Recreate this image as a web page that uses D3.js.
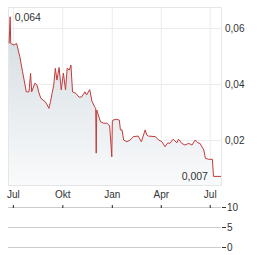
<!DOCTYPE html>
<html>
<head>
<meta charset="utf-8">
<script src="https://cdn.jsdelivr.net/npm/d3@7"></script>
<style>
body { margin: 0; background: #fff; }
svg text { font-family: "Liberation Sans", Arial, sans-serif; fill: #333; }
</style>
</head>
<body>
<div id="chart"></div>
<script>
// Price series
const dates = ["2023-06-24","2023-06-26","2023-06-27","2023-07-03","2023-07-08","2023-07-11","2023-07-14",
  "2023-07-19","2023-07-22","2023-07-26","2023-07-31","2023-08-03","2023-08-05","2023-08-11","2023-08-15",
  "2023-08-18","2023-08-22","2023-08-30","2023-09-03","2023-09-06","2023-09-09","2023-09-12","2023-09-15",
  "2023-09-18","2023-09-21","2023-09-25","2023-09-29","2023-10-03","2023-10-07","2023-10-10","2023-10-14",
  "2023-10-17","2023-10-20","2023-10-26","2023-11-01","2023-11-06","2023-11-12","2023-11-15","2023-11-21",
  "2023-11-25","2023-11-30","2023-12-02","2023-12-03","2023-12-04","2023-12-06","2023-12-11","2023-12-17",
  "2023-12-23","2023-12-28","2024-01-01","2024-01-02","2024-01-03","2024-01-10","2024-01-15","2024-01-17",
  "2024-01-20","2024-01-23","2024-01-29","2024-02-04","2024-02-10","2024-02-19","2024-02-25","2024-03-03",
  "2024-03-06","2024-03-09","2024-03-22","2024-03-28","2024-04-03","2024-04-09","2024-04-14","2024-04-18",
  "2024-04-24","2024-05-01","2024-05-04","2024-05-10","2024-05-16","2024-05-23","2024-05-29","2024-06-04",
  "2024-06-09","2024-06-13","2024-06-20","2024-06-23","2024-06-29","2024-07-06","2024-07-08","2024-07-22"];
const prices = [0.0545,0.064,0.0545,0.0539,0.0545,0.0521,0.0497,
  0.0444,0.0414,0.0372,0.0372,0.0438,0.0372,0.0403,0.0396,
  0.0372,0.0349,0.0337,0.0325,0.0313,0.0337,0.0367,0.0396,
  0.0456,0.0414,0.0459,0.0379,0.0439,0.0379,0.0456,0.045,
  0.0468,0.0372,0.0367,0.0353,0.0354,0.0372,0.0361,0.038,
  0.0339,0.0319,0.0313,0.0153,0.0307,0.0295,0.0265,0.026,
  0.026,0.025,0.014,0.0268,0.0271,0.0274,0.0271,0.0236,
  0.0236,0.02,0.0194,0.02,0.0212,0.0214,0.0194,0.0236,
  0.0218,0.0214,0.0212,0.02,0.0194,0.0176,0.019,0.0188,
  0.0203,0.019,0.0203,0.0188,0.0182,0.0188,0.0182,0.02,
  0.019,0.0188,0.0164,0.0135,0.0131,0.0131,0.007,0.007];

const priceTicks = [0.02, 0.04, 0.06];
const monthTicks = ["2023-07-01", "2023-10-01", "2024-01-01", "2024-04-01", "2024-07-01"];
const monthLabels = ["Jul", "Okt", "Jan", "Apr", "Jul"];
const volumeTicks = [0, 5, 10];

const W = 264, H = 255;
const plot = {left: 8, right: 221, top: 7, bottom: 185};

const parse = d3.utcParse("%Y-%m-%d");
const data = dates.map((d, i) => ({date: parse(d), value: prices[i]}));

const de = d3.formatLocale({decimal: ",", thousands: ".", grouping: [3], currency: ["", " €"]});
const fmt2 = de.format(".2f"), fmt3 = de.format(".3f");

const svg = d3.select("#chart").append("svg")
  .attr("width", W).attr("height", H);

const x = d3.scaleUtc()
  .domain([parse("2023-06-22"), parse("2024-07-22")])
  .range([plot.left, plot.right]);

const y = d3.scaleLinear()
  .domain([0, 0.06])
  .range([196, 28]);

// gradient for the area
const grad = svg.append("defs").append("linearGradient")
  .attr("id", "fill").attr("gradientUnits", "userSpaceOnUse")
  .attr("x1", 0).attr("x2", 0).attr("y1", plot.top).attr("y2", plot.bottom);
grad.append("stop").attr("offset", "0%").attr("stop-color", "#d0d9df");
grad.append("stop").attr("offset", "100%").attr("stop-color", "#f9fafb");

svg.select("defs").append("clipPath").attr("id", "clip")
  .append("rect")
  .attr("x", plot.left).attr("y", plot.top)
  .attr("width", plot.right - plot.left).attr("height", plot.bottom - plot.top);

// gridlines
svg.append("g")
  .attr("transform", `translate(0,${plot.bottom})`)
  .call(d3.axisBottom(x).tickValues(monthTicks.map(parse)).tickSize(-(plot.bottom - plot.top)).tickFormat(""))
  .call(g => g.select(".domain").remove())
  .call(g => g.selectAll("line").attr("stroke", "#ebebeb"));

svg.append("g")
  .attr("transform", `translate(${plot.left},0)`)
  .call(d3.axisRight(y).tickValues(priceTicks).tickSize(plot.right - plot.left).tickFormat(""))
  .call(g => g.select(".domain").remove())
  .call(g => g.selectAll("line").attr("stroke", "#ebebeb"));

// frame
svg.append("rect")
  .attr("x", plot.left + 0.5).attr("y", plot.top + 0.5)
  .attr("width", plot.right - plot.left).attr("height", plot.bottom - plot.top)
  .attr("fill", "none").attr("stroke", "#e6e6e6");

// area and line
const area = d3.area()
  .x(d => x(d.date)).y0(plot.bottom).y1(d => y(d.value));
const line = d3.line()
  .x(d => x(d.date)).y(d => y(d.value));

svg.append("path")
  .datum(data)
  .attr("clip-path", "url(#clip)")
  .attr("d", area)
  .attr("fill", "url(#fill)");

svg.append("path")
  .datum(data)
  .attr("clip-path", "url(#clip)")
  .attr("d", line)
  .attr("fill", "none")
  .attr("stroke", "#c23b3b")
  .attr("stroke-width", 1);

// price axis on the right
svg.append("g")
  .attr("transform", `translate(${plot.right},0)`)
  .call(d3.axisRight(y).tickValues(priceTicks).tickSize(0).tickPadding(4).tickFormat(fmt2))
  .call(g => g.select(".domain").remove())
  .call(g => g.selectAll("text").style("font-size", "10px").attr("fill", "#333"));

// month labels
svg.append("g")
  .attr("transform", `translate(0,${plot.bottom})`)
  .call(d3.axisBottom(x).tickValues(monthTicks.map(parse)).tickSize(0).tickPadding(6)
    .tickFormat((d, i) => monthLabels[i]))
  .call(g => g.select(".domain").remove())
  .call(g => g.selectAll("text").style("font-size", "10px").attr("fill", "#333"));

// max / last annotations
const maxPt = data.reduce((a, b) => b.value > a.value ? b : a);
const lastPt = data[data.length - 1];
const dropPt = data[data.length - 2];

svg.append("text")
  .attr("x", x(maxPt.date) + 4.5).attr("y", y(maxPt.value)).attr("dy", "0.37em")
  .style("font-size", "10.5px").attr("fill", "#222")
  .text(fmt3(maxPt.value));

svg.append("text")
  .attr("x", x(dropPt.date) - 5.5).attr("y", y(lastPt.value)).attr("dy", "0.37em")
  .attr("text-anchor", "end")
  .style("font-size", "10.5px").attr("fill", "#222")
  .text(fmt3(lastPt.value));

// volume panel (empty)
const yv = d3.scaleLinear().domain([0, 10]).range([247, 207]);

svg.append("g")
  .attr("transform", `translate(${plot.left},0)`)
  .call(d3.axisRight(yv).tickValues(volumeTicks).tickSize(plot.right - plot.left).tickFormat(""))
  .call(g => g.select(".domain").remove())
  .call(g => g.selectAll("line").attr("stroke", "#cccccc"));

svg.append("g")
  .attr("transform", `translate(${plot.right + 1},0)`)
  .call(d3.axisRight(yv).tickValues(volumeTicks).tickSize(4).tickPadding(1).tickFormat(d3.format("d")))
  .call(g => g.select(".domain").remove())
  .call(g => g.selectAll("line").attr("stroke", "#333"))
  .call(g => g.selectAll("text").style("font-size", "10px").attr("fill", "#333"));

// month ticks on top of volume panel
svg.append("g")
  .attr("transform", `translate(0,205)`)
  .call(d3.axisBottom(x).tickValues(monthTicks.map(parse)).tickSize(3).tickFormat(""))
  .call(g => g.select(".domain").remove())
  .call(g => g.selectAll("line").attr("stroke", "#222"));
</script>
</body>
</html>
